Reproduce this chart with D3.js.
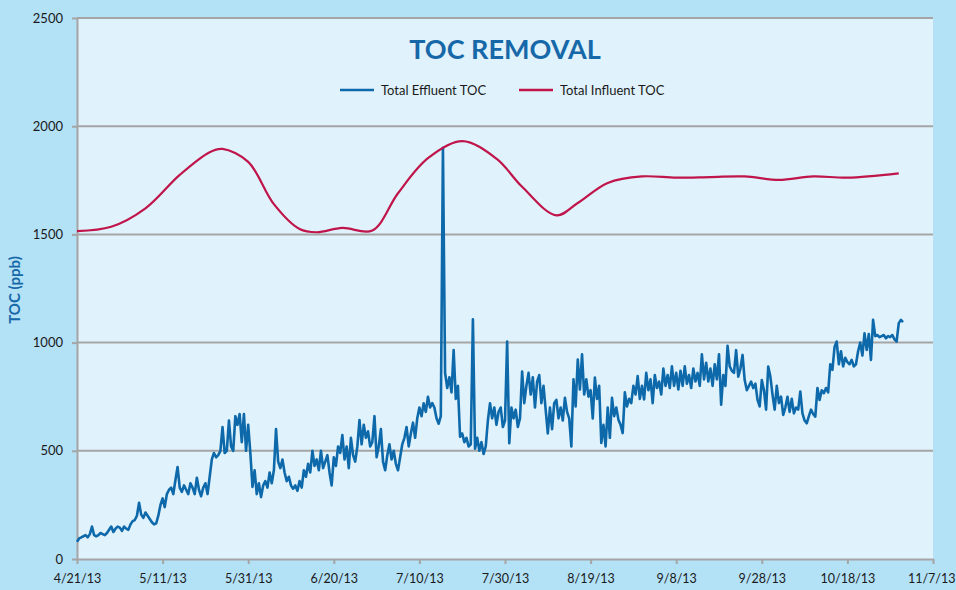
<!DOCTYPE html>
<html>
<head>
<meta charset="utf-8">
<script src="https://cdn.jsdelivr.net/npm/d3@7"></script>
<style>
  html, body { margin: 0; padding: 0; background: #b3e1f6; }
  svg { display: block; }
</style>
</head>
<body>
<svg id="chart" width="956" height="590"></svg>
<script>
'use strict';
var tickLabels = ['4/21/13','5/11/13','5/31/13','6/20/13','7/10/13','7/30/13','8/19/13','9/8/13','9/28/13','10/18/13','11/7/13'];
var yTicks = [0, 500, 1000, 1500, 2000, 2500];

// influent: sparse lab samples
var influentDays = [0, 8, 16, 24, 31, 34, 40, 46, 52, 56, 62, 69, 75, 82, 90, 98, 104, 112, 117, 124, 132, 140, 148, 156, 164, 172, 180, 192];
var influentValues = [1515, 1535, 1620, 1775, 1880, 1895, 1835, 1640, 1525, 1510, 1530, 1518, 1690, 1852, 1931, 1850, 1720, 1588, 1645, 1738, 1768, 1762, 1765, 1768, 1752, 1768, 1762, 1782];

// effluent: two readings a day starting 4/21/13
var effluentValues = [
  80, 95, 100, 105, 110, 100, 115, 150, 110, 105,
  110, 120, 115, 110, 120, 135, 150, 125, 140, 150,
  145, 130, 150, 140, 135, 160, 175, 180, 200, 260,
  205, 190, 215, 200, 185, 170, 160, 165, 200, 250,
  280, 240, 300, 320, 330, 300, 365, 425, 330, 310,
  340, 320, 300, 350, 330, 300, 375, 320, 290, 330,
  350, 300, 380, 460, 490, 470, 480, 500, 610, 490,
  500, 640, 520, 500, 660, 620, 670, 540, 670, 500,
  620, 490, 333, 410, 300, 350, 286, 340, 360, 330,
  400, 350, 410, 600, 450, 420, 460, 400, 360, 380,
  340, 325, 340, 315, 360, 330, 410, 380, 440, 400,
  500, 430, 460, 410, 500, 420, 450, 480, 400, 340,
  470, 430, 520, 490, 573, 460, 520, 420, 560, 480,
  450, 520, 642, 530, 620, 560, 590, 520, 540, 660,
  470, 520, 600, 450, 410, 480, 530, 460, 500, 440,
  410, 470, 530, 560, 610, 520, 580, 630, 560, 650,
  700, 660, 720, 680, 750, 700, 720, 700, 650, 625,
  660, 1900, 860, 790, 840, 770, 966, 740, 800, 565,
  580, 540, 560, 520, 530, 1108, 510, 560, 500, 540,
  485, 520, 640, 720, 650, 700, 620, 680, 700, 610,
  640, 1005, 535, 700, 650, 690, 610, 650, 866, 720,
  800, 860, 760, 840, 700, 820, 850, 720, 800, 690,
  580, 700, 600, 720, 735, 650, 700, 640, 745, 680,
  650, 520, 830, 705, 922, 783, 946, 760, 830, 750,
  780, 650, 838, 740, 800, 536, 620, 520, 700, 560,
  745, 660, 700, 644, 620, 582, 770, 705, 740, 720,
  800, 760, 845, 740, 800, 737, 860, 780, 830, 720,
  850, 790, 820, 760, 880, 800, 850, 790, 890, 800,
  860, 783, 870, 800, 890, 810, 850, 790, 880, 820,
  860, 800, 946, 830, 907, 820, 880, 800, 900, 830,
  946, 713, 850, 800, 985, 890, 870, 860, 965, 843,
  880, 943, 827, 780, 800, 820, 790, 810, 735, 705,
  827, 780, 690, 889, 843, 760, 690, 800, 720, 750,
  666, 700, 750, 680, 740, 673, 700, 690, 774, 673,
  640, 627, 660, 690, 670, 658, 790, 735, 780, 766,
  790, 770, 900, 874, 980, 1005, 900, 960, 890, 930,
  910, 900, 920, 890, 900, 960, 1000, 940, 1043, 966,
  1040, 920, 1105, 1030, 1035, 1025, 1030, 1035, 1020, 1030,
  1025, 1035, 1015, 1005, 1090, 1105, 1095
];

(function(){
var svg = d3.select('#chart');
var W = 956, H = 590;
var mLeft = 77, mRight = 933, mTop = 18, mBottom = 559;
var parse = d3.timeParse('%m/%d/%y');
var start = parse('4/21/13');
var dayMs = 864e5;
var font = 'Lato, "Open Sans", sans-serif';

var x = d3.scaleTime().domain([start, parse('11/7/13')]).range([mLeft, mRight]);
var y = d3.scaleLinear().domain([0, 2500]).range([mBottom, mTop]);

svg.append('rect').attr('width', W).attr('height', H).attr('fill', '#b3e1f6');
svg.append('rect')
   .attr('x', mLeft).attr('y', mTop)
   .attr('width', mRight - mLeft).attr('height', mBottom - mTop)
   .attr('fill', '#e0f2fc');

// grid + y axis
svg.append('g').selectAll('line')
   .data(yTicks.filter(function(v){ return v > 0; }))
   .enter().append('line')
   .attr('x1', mLeft).attr('x2', mRight)
   .attr('y1', function(v){ return y(v); }).attr('y2', function(v){ return y(v); })
   .attr('stroke', '#a5a5a5').attr('stroke-width', 2);

var yAxis = svg.append('g')
   .attr('transform', 'translate(' + mLeft + ',0)')
   .call(d3.axisLeft(y).tickValues(yTicks).tickSize(5).tickPadding(9).tickSizeOuter(0)
         .tickFormat(d3.format('d')));
yAxis.select('.domain').attr('stroke', '#a5a5a5').attr('stroke-width', 2);
yAxis.selectAll('.tick line').attr('stroke', '#a5a5a5').attr('stroke-width', 2);
yAxis.selectAll('.tick text')
   .style('font-family', font).style('font-size', '13px').attr('fill', '#1a1a1a');

var xAxis = svg.append('g')
   .attr('transform', 'translate(0,' + mBottom + ')')
   .call(d3.axisBottom(x).tickValues(tickLabels.map(parse)).tickSize(5).tickPadding(10)
         .tickSizeOuter(0).tickFormat(function(d, i){ return tickLabels[i]; }));
xAxis.select('.domain').attr('stroke', '#a5a5a5').attr('stroke-width', 2);
xAxis.selectAll('.tick line').attr('stroke', '#a5a5a5').attr('stroke-width', 2);
xAxis.selectAll('.tick text')
   .style('font-family', font).style('font-size', '12.5px').attr('fill', '#1a1a1a');
// last label sits against the right edge
xAxis.selectAll('.tick text').filter(function(d, i){ return i === tickLabels.length - 1; })
   .attr('text-anchor', 'end').attr('x', 955 - mRight);

// lines
var influent = influentDays.map(function(d, i){ return {date: new Date(+start + d * dayMs), v: influentValues[i]}; });
var effluent = effluentValues.map(function(v, i){ return {date: new Date(+start + i * dayMs / 2), v: v}; });

var line = d3.line().x(function(d){ return x(d.date); }).y(function(d){ return y(d.v); });

svg.append('path').datum(effluent)
   .attr('d', line)
   .attr('fill', 'none').attr('stroke', '#0d69aa').attr('stroke-width', 2.6)
   .attr('stroke-linejoin', 'round');

svg.append('path').datum(influent)
   .attr('d', line.curve(d3.curveCatmullRom.alpha(0.5)))
   .attr('fill', 'none').attr('stroke', '#c0154a').attr('stroke-width', 2.2);

// title
svg.append('text')
   .attr('x', 505).attr('y', 59)
   .attr('text-anchor', 'middle')
   .style('font-family', font).style('font-weight', 'bold').style('font-size', '27px')
   .attr('fill', '#1668a8')
   .text('TOC REMOVAL');

// legend
var legend = [{name: 'Total Effluent TOC', color: '#0d69aa', x: 340},
              {name: 'Total Influent TOC', color: '#c0154a', x: 519}];
var lg = svg.append('g').selectAll('g').data(legend).enter().append('g')
   .attr('transform', function(d){ return 'translate(' + d.x + ',90)'; });
lg.append('line').attr('x1', 0).attr('x2', 34).attr('stroke', function(d){ return d.color; }).attr('stroke-width', 2.5);
lg.append('text').attr('x', 41).attr('y', 5)
   .style('font-family', font).style('font-size', '13px')
   .attr('fill', '#1a1a1a')
   .text(function(d){ return d.name; });

// y axis title
svg.append('text')
   .attr('transform', 'translate(20,290) rotate(-90)')
   .attr('text-anchor', 'middle')
   .style('font-family', font).style('font-weight', 'bold').style('font-size', '15px')
   .attr('fill', '#1668a8')
   .text('TOC (ppb)');
})();
</script>
</body>
</html>
